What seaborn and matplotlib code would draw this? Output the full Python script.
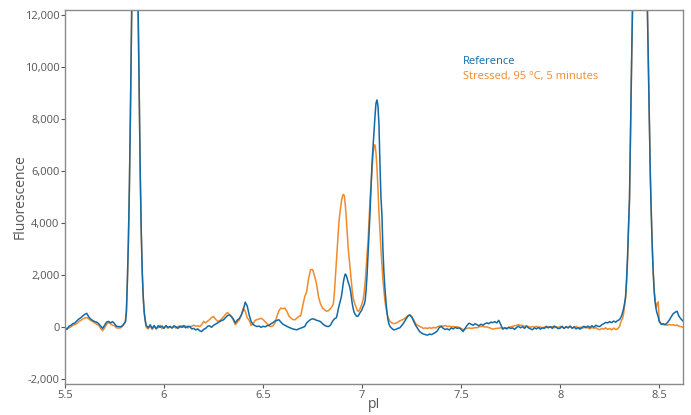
import matplotlib
matplotlib.use("Agg")
import matplotlib.pyplot as plt
import matplotlib.ticker as mticker
import seaborn as sns
import pandas as pd

# pI grid
pI = [
    5.50, 5.51, 5.52, 5.53, 5.54, 5.55, 5.56, 5.57, 5.58, 5.59, 5.60, 5.61, 5.62, 5.63, 5.64, 5.65,
    5.66, 5.67, 5.68, 5.69, 5.70, 5.71, 5.72, 5.73, 5.74, 5.75, 5.76, 5.77, 5.78, 5.79, 5.80,
    5.805, 5.81, 5.815, 5.82, 5.825, 5.83, 5.835, 5.84, 5.845, 5.85, 5.855, 5.86, 5.865, 5.87,
    5.875, 5.88, 5.885, 5.89, 5.895, 5.90, 5.905,
    5.91, 5.92, 5.93, 5.94, 5.95, 5.96, 5.97, 5.98, 5.99, 6.00, 6.01, 6.02, 6.03, 6.04, 6.05,
    6.06, 6.07, 6.08, 6.09, 6.10, 6.11, 6.12, 6.13, 6.14, 6.15, 6.16, 6.17, 6.18, 6.19, 6.20,
    6.21, 6.22, 6.23, 6.24, 6.25, 6.26, 6.27, 6.28, 6.29, 6.30, 6.31, 6.32, 6.33, 6.34, 6.35,
    6.36, 6.37, 6.38, 6.39, 6.40, 6.41, 6.42, 6.43, 6.44, 6.45, 6.46, 6.47, 6.48, 6.49, 6.50,
    6.51, 6.52, 6.53, 6.54, 6.55, 6.56, 6.57, 6.58, 6.59, 6.60, 6.61, 6.62, 6.63, 6.64, 6.65,
    6.66, 6.67, 6.68, 6.69, 6.70, 6.71, 6.72, 6.73, 6.74, 6.75, 6.76, 6.77, 6.78, 6.79, 6.80,
    6.81, 6.82, 6.83, 6.84, 6.85,
    6.855, 6.86, 6.865, 6.87, 6.875, 6.88, 6.885, 6.89, 6.895, 6.90, 6.905, 6.91, 6.915, 6.92,
    6.925, 6.93, 6.935, 6.94, 6.945, 6.95, 6.955, 6.96, 6.965, 6.97, 6.975, 6.98, 6.985, 6.99,
    6.995, 7.00, 7.005, 7.01, 7.015, 7.02, 7.025, 7.03, 7.035, 7.04, 7.045, 7.05, 7.055, 7.06,
    7.065, 7.07, 7.075, 7.08, 7.085, 7.09, 7.095, 7.10, 7.105, 7.11, 7.115, 7.12, 7.125, 7.13,
    7.135, 7.14, 7.145,
    7.15, 7.16, 7.17, 7.18, 7.19, 7.20, 7.21, 7.22, 7.23, 7.24, 7.25, 7.26, 7.27, 7.28, 7.29,
    7.30, 7.31, 7.32, 7.33, 7.34, 7.35, 7.36, 7.37, 7.38, 7.39, 7.40, 7.41, 7.42, 7.43, 7.44,
    7.45, 7.46, 7.47, 7.48, 7.49, 7.50, 7.51, 7.52, 7.53, 7.54, 7.55, 7.56, 7.57, 7.58, 7.59,
    7.60, 7.61, 7.62, 7.63, 7.64, 7.65, 7.66, 7.67, 7.68, 7.69, 7.70, 7.71, 7.72, 7.73, 7.74,
    7.75, 7.76, 7.77, 7.78, 7.79, 7.80, 7.81, 7.82, 7.83, 7.84, 7.85, 7.86, 7.87, 7.88, 7.89,
    7.90, 7.91, 7.92, 7.93, 7.94, 7.95, 7.96, 7.97, 7.98, 7.99, 8.00, 8.01, 8.02, 8.03, 8.04,
    8.05, 8.06, 8.07, 8.08, 8.09, 8.10, 8.11, 8.12, 8.13, 8.14, 8.15, 8.16, 8.17, 8.18, 8.19,
    8.20, 8.21, 8.22, 8.23, 8.24, 8.25, 8.26, 8.27, 8.28, 8.29, 8.30,
    8.305, 8.31, 8.315, 8.32, 8.325, 8.33, 8.335, 8.34, 8.345, 8.35, 8.355, 8.36, 8.365, 8.37,
    8.38, 8.39, 8.40, 8.41, 8.42, 8.43, 8.44, 8.445, 8.45, 8.455, 8.46, 8.465, 8.47, 8.475,
    8.48, 8.485, 8.49, 8.495, 8.50,
    8.51, 8.52, 8.53, 8.54, 8.55, 8.56, 8.57, 8.58, 8.59, 8.60, 8.61, 8.62,
]

reference = [
    -50, -100, 20, 60, 120, 150, 230, 300, 350, 420, 480, 520, 380, 300, 240, 200,
    180, 120, 30, -60, 60, 180, 210, 150, 200, 120, 20, 10, 0, 40, 150,
    200, 600, 1800, 3300, 5360, 8040, 11100, 14170, 16720, 18240, 18400, 17130, 14740, 11730,
    8630, 5860, 3680, 2130, 1150, 570, 260,
    60, -40, 80, -60, 50, -80, 40, -20, 30, -60, 50, -30, 20, -50, 40,
    0, -60, 30, -20, 50, -40, 20, 10, -80, -60, -120, -80, -150, -180, -100,
    -60, 20, 40, -20, 60, 100, 150, 200, 240, 270, 350, 430, 460, 400, 300,
    150, 260, 320, 450, 650, 950, 800, 450, 200, 90, 40, 10, 30, -20, 20,
    0, 40, 60, 120, 160, 220, 250, 270, 180, 100, 60, 20, -20, -50, -80,
    -100, -115, -80, -50, -20, 10, 150, 220, 280, 310, 290, 250, 230, 200, 120,
    60, 20, 10, 60, 200,
    260, 300, 330, 350, 500, 700, 850, 1000, 1150, 1400, 1700, 1900, 2030, 1980,
    1850, 1700, 1600, 1450, 1200, 900, 700, 550, 480, 430, 400, 420, 480, 550,
    600, 680, 780, 850, 1000, 1400, 2000, 2800, 3600, 4400, 5400, 6300, 6900, 7500,
    8100, 8600, 8730, 8500, 7800, 6300, 5000, 4300, 3000, 2100, 1500, 1000, 600, 300,
    120, 20, -20,
    -60, -120, -100, -60, -40, 50, 150, 280, 400, 460, 380, 220, 60, -60, -180,
    -240, -280, -300, -320, -280, -300, -260, -220, -150, -20, 10, -60, -100, -80, -120,
    -40, -80, -20, -60, -40, -100, -180, -60, 60, 140, 100, 60, 120, 80, 40,
    100, 60, 120, 150, 120, 180, 160, 200, 150, 250, 80, -90, -40, -80, -20,
    -60, -40, -100, -20, 20, -40, 10, -60, 30, -40, -80, -110, -40, -80, -20,
    -90, -40, -60, 20, -40, 10, -60, 30, -20, -70, -50, 20, -60, 10, -40,
    30, -50, 0, -80, -30, -90, -20, 20, -40, 30, -30, 40, -10, 60, 20,
    10, 80, 120, 170, 150, 200, 160, 220, 180, 240, 280,
    350, 420, 550, 700, 900, 1150, 1800, 2700, 3900, 5000, 7500, 10000, 12200, 15000,
    19500, 24500, 27500, 26000, 21500, 16500, 12300, 10200, 8200, 5800, 4300, 3000, 2000, 1300,
    900, 650, 500, 380, 200,
    100, 120, 80, 150, 250, 380, 500, 560, 600, 400, 300, 220,
]

stressed = [
    -30, -60, -40, 0, 60, 90, 130, 200, 250, 300, 340, 360, 300, 240, 200, 150,
    100, 60, -60, -150, -40, 100, 170, 110, 60, 40, -40, -50, -40, 20, 120,
    180, 550, 1750, 3250, 5300, 8000, 11050, 14100, 16700, 18200, 18350, 17050, 14650, 11650,
    8550, 5800, 3600, 2050, 1100, 520, 200,
    -20, -80, 40, -100, 20, -60, -30, 60, -70, -20, 30, -60, 10, -40, 0,
    -50, 20, -30, 40, -20, 30, -40, 10, 20, 60, 30, 40, 10, 80, 210,
    150, 220, 280, 360, 400, 290, 220, 230, 300, 380, 480, 550, 470, 400, 250,
    80, 180, 270, 450, 720, 600, 350, 250, 50, 120, 250, 280, 300, 330, 280,
    200, 120, 40, 10, 40, 150, 400, 620, 720, 700, 720, 600, 420, 340, 280,
    270, 330, 400, 420, 800, 1150, 1350, 1870, 2200, 2200, 1950, 1650, 1150, 880, 720,
    660, 600, 620, 700, 800,
    900, 1300, 1900, 2500, 3100, 3700, 4200, 4500, 4800, 5000, 5100, 5050, 4700, 4200,
    3600, 3000, 2600, 2200, 1800, 1400, 1100, 950, 850, 750, 650, 590, 620, 700,
    800, 900, 1050, 1300, 1700, 2200, 2800, 3300, 4100, 4900, 5500, 6000, 6600, 7000,
    7000, 6700, 6100, 5300, 4400, 3700, 3000, 2400, 1800, 1400, 1000, 750, 550, 380,
    300, 220, 180,
    150, 120, 140, 180, 230, 260, 300, 350, 420, 460, 400, 280, 120, 60, 20,
    -20, -60, -40, -70, -30, -60, -20, -50, 0, 30, 40, 20, 50, 10, 30,
    0, 20, -20, 10, -30, -60, -110, -80, -60, -40, -60, -50, -30, -40, 0,
    10, 20, -10, 0, -30, -60, -90, -70, -60, -50, -40, -50, -30, -50, -20,
    0, 20, 40, 60, 80, 60, 50, 20, 30, 10, -20, 10, -10, 20, -30,
    0, -40, -10, -30, 0, -20, 10, -40, 0, -30, 20, -20, -60, 0, -40,
    10, -60, -20, 20, -50, -10, -60, -30, 10, -40, -80, -20, -60, -30, -90,
    -110, -60, -90, -40, -100, -60, -120, -50, -100, -80, 20,
    150, 250, 320, 500, 800, 1100, 1700, 2500, 3800, 4800, 7300, 9800, 12000, 14800,
    19300, 24300, 27300, 25800, 21500, 16600, 12400, 10300, 8300, 5900, 4400, 3100, 2100, 1400,
    1000, 750, 900, 960, 250,
    120, 80, 90, 60, 90, 70, 80, 50, 70, 20, 10, -20,
]

series_names = ["Reference", "Stressed, 95 \u00b0C, 5 minutes"]
colors = {series_names[0]: "#126aa6", series_names[1]: "#f18a2a"}

df = pd.concat([
    pd.DataFrame({"pI": pI, "Fluorescence": stressed, "Sample": series_names[1]}),
    pd.DataFrame({"pI": pI, "Fluorescence": reference, "Sample": series_names[0]}),
])

sns.set_theme(style="white")
plt.rcParams["font.family"] = ["Open Sans", "DejaVu Sans"]

fig = plt.figure(figsize=(6.91, 4.15), dpi=100)
ax = fig.add_axes([65 / 691, 1 - 384 / 415, 618 / 691, 374 / 415])

sns.lineplot(data=df, x="pI", y="Fluorescence", hue="Sample",
             hue_order=[series_names[1], series_names[0]], palette=colors,
             estimator=None, sort=False, linewidth=1.1, legend=False, ax=ax)

ax.set_xlim(5.5, 8.62)
ax.set_ylim(-2200, 12190)
ax.set_xticks([5.5, 6, 6.5, 7, 7.5, 8, 8.5])
ax.set_xticklabels(["5.5", "6", "6.5", "7", "7.5", "8", "8.5"])
ax.set_yticks([-2000, 0, 2000, 4000, 6000, 8000, 10000, 12000])
ax.yaxis.set_major_formatter(mticker.FuncFormatter(lambda v, p: f"{int(v):,}"))

ax.tick_params(axis="both", which="major", labelsize=8, colors="#555555",
               length=3, width=0.8, direction="out", pad=1,
               bottom=True, left=True)
for s in ax.spines.values():
    s.set_color("#8a8a8a")
    s.set_linewidth(1.0)

ax.set_xlabel("pI", fontsize=10, color="#555555")
ax.set_ylabel("Fluorescence", fontsize=10, color="#555555")
ax.xaxis.set_label_coords(0.5, -0.035)
ax.yaxis.set_label_coords(-0.060, 0.5)

ax.text(0.644, 0.861, series_names[0], transform=ax.transAxes, color=colors[series_names[0]],
        fontsize=8, va="center", ha="left")
ax.text(0.644, 0.821, series_names[1], transform=ax.transAxes, color=colors[series_names[1]],
        fontsize=8, va="center", ha="left")

fig.savefig("out.png", dpi=100)
